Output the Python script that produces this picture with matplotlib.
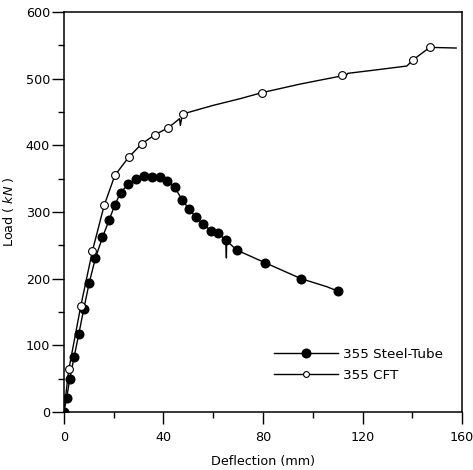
import numpy as np
import matplotlib
matplotlib.use("Agg")
import matplotlib.pyplot as plt

# ===============================
# DATA
# ===============================
# 355 Steel-Tube: curve vertices, with markers on a subset
steel_x = [0, 1.1, 2.4, 4.1, 6.0, 8.0, 10.2, 12.7, 15.5, 18.2, 20.5, 22.8,
           25.9, 28.9, 32.3, 35.5, 38.6, 41.5, 44.5, 47.6, 50.4, 53.1, 55.9,
           59.1, 62.0, 65.1, 65.3, 65.4, 69.4, 80.8, 95.3, 105.6, 110.0]
steel_y = [0, 20.5, 50, 82, 117, 154.5, 194, 231, 262, 288, 311, 329,
           342, 349, 354, 353, 353, 346, 337, 318, 304, 292, 282,
           272, 268, 258, 231, 257, 243, 224, 200, 188, 181.5]
steel_marks = [i for i in range(len(steel_x)) if i not in (26, 27, 31)]

# 355 CFT: curve vertices, with markers on a subset
cft_x = [0, 2.0, 6.8, 11.5, 16.2, 20.5, 26.0, 31.2, 36.6, 41.8, 46.5, 46.8,
         47.7, 60.0, 70.8, 79.5, 95.0, 110.0, 111.6, 113.0, 114.0, 125.0,
         137.8, 140.2, 147.0, 157.6]
cft_y = [0, 64, 159, 242, 310, 355, 382, 402, 416, 426, 440, 430,
         447, 460, 470, 479, 492, 503, 505, 501, 508, 513,
         519, 528, 547, 546]
cft_marks = [1, 2, 3, 4, 5, 6, 7, 8, 9, 12, 15, 18, 23, 24]

# ===============================
# PLOT
# ===============================
plt.rcParams["font.family"] = "DejaVu Sans"
plt.rcParams["font.size"] = 9.2

fig = plt.figure(figsize=(4.73, 4.70), dpi=100)
ax = fig.add_axes([0.135, 0.1234, 0.842, 0.851])

ax.plot(steel_x, steel_y, color="black", lw=1.0, marker="o", ms=6.2,
        mfc="black", mec="black", markevery=steel_marks,
        label="355 Steel-Tube")
ax.plot(cft_x, cft_y, color="black", lw=1.0, marker="o", ms=5.6,
        mfc="white", mec="black", mew=0.8, markevery=cft_marks,
        label="355 CFT")

ax.set_xlim(0, 160)
ax.set_ylim(0, 600)
ax.set_xticks(np.arange(0, 161, 40))
ax.set_xticks(np.arange(20, 161, 40), minor=True)
ax.set_yticks(np.arange(0, 601, 100))
ax.set_yticks(np.arange(50, 601, 100), minor=True)
ax.tick_params(which="major", length=8.5, width=1.0)
ax.tick_params(which="minor", length=4.5, width=1.0)
ax.tick_params(axis="x", pad=5)
ax.tick_params(axis="y", pad=1.5)
for s in ax.spines.values():
    s.set_linewidth(1.1)

ax.set_xlabel("Deflection (mm)", labelpad=8)
ax.set_ylabel("Load ( $kN$ )", labelpad=7)

leg = ax.legend(loc="center left", bbox_to_anchor=(0.496, 0.1175),
                frameon=False, fontsize=9.7, handlelength=4.75,
                handletextpad=0.4, labelspacing=0.6)
leg.legend_handles[1].set_markersize(4.2)

plt.savefig("out.png", dpi=100)
